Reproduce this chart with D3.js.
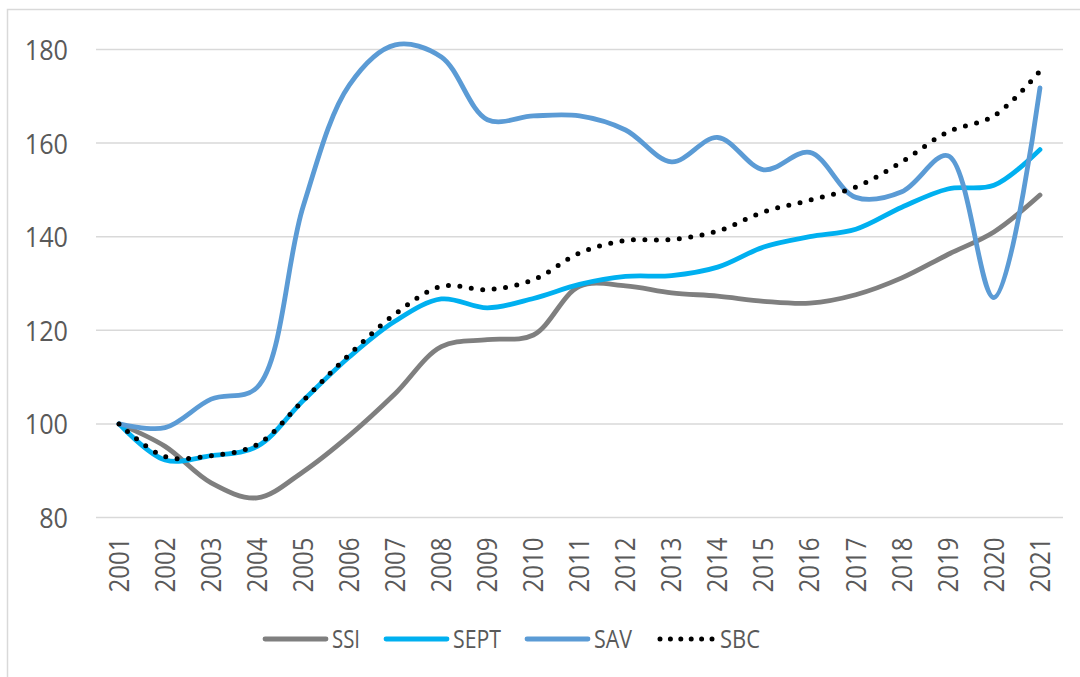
<!DOCTYPE html>
<html>
<head>
<meta charset="utf-8">
<script src="https://d3js.org/d3.v7.min.js"></script>
<style>
  body { margin: 0; background: #fff; }
  text { font-family: "Open Sans", "Noto Sans", sans-serif; fill: #595959; }
</style>
</head>
<body>
<div id="chart"></div>
<script>
const width = 1080
const height = 677

const years = ["2001", "2002", "2003", "2004", "2005", "2006", "2007", "2008", "2009", "2010", "2011",
    "2012", "2013", "2014", "2015", "2016", "2017", "2018", "2019", "2020", "2021"]
const yTicks = [80, 100, 120, 140, 160, 180]

const ssi = [100, 95.2, 87.4, 84.2, 89.8, 97.5, 106.5, 116.5, 118, 119, 129.4,
    129.5, 128, 127.3, 126.2, 125.8, 127.6, 131.2, 136.2, 141, 148.9]
const sept = [100, 92.3, 93.2, 95.2, 105, 114.3, 122, 126.7, 124.8, 126.8, 129.8,
    131.5, 131.7, 133.5, 137.8, 140, 141.6, 146.3, 150.2, 151, 158.6]
const sav = [100, 99.2, 105.3, 107.8, 146.5, 172.4, 181, 178.4, 165, 165.8, 165.8,
    162.8, 156, 161.2, 154.3, 158, 148.4, 149.6, 157.3, 127, 171.8]
const sbc = [100, 93, 93.2, 95.6, 105, 114.8, 123.5, 129.4, 128.7, 130.8, 136.5,
    139.2, 139.4, 141.2, 145.3, 147.8, 150.6, 156, 162.4, 165.8, 175.4]

const seriesNames = ["SSI", "SEPT", "SAV", "SBC"]
const seriesValues = [ssi, sept, sav, sbc]
const seriesColors = ["#7f7f7f", "#00b0f0", "#5b9bd5", "#000000"]

const svg = d3.select("#chart").append("svg")
    .attr("width", width)
    .attr("height", height)

// chart frame
svg.append("rect")
    .attr("x", 7.5).attr("y", 9.5)
    .attr("width", width + 20).attr("height", height + 20)
    .attr("fill", "none")
    .attr("stroke", "#d9d9d9")
    .attr("stroke-width", 1.5)

const xScale = d3.scaleBand()
    .domain(years)
    .range([96, 1063])

const yScale = d3.scaleLinear()
    .domain([80, 180])
    .range([517.5, 49.5])

// gridlines
svg.append("g")
    .selectAll("line")
    .data(yTicks)
    .enter()
    .append("line")
    .attr("x1", 96).attr("x2", 1063)
    .attr("y1", d => yScale(d)).attr("y2", d => yScale(d))
    .attr("stroke", "#d9d9d9")
    .attr("stroke-width", 1.5)

const yAxis = d3.axisLeft(yScale).tickValues(yTicks).tickSize(0).tickPadding(0)
const yG = svg.append("g")
    .attr("transform", "translate(68,0)")
    .call(yAxis)
yG.select(".domain").remove()
yG.selectAll("text")
    .attr("font-size", 28)
    .attr("dy", "0.36em")
    .attr("textLength", d => String(d).length * 14.4)
    .attr("lengthAdjust", "spacingAndGlyphs")

const xAxis = d3.axisBottom(xScale).tickSize(0).tickPadding(0)
const xG = svg.append("g")
    .attr("transform", "translate(0,517.5)")
    .call(xAxis)
xG.select(".domain").remove()
xG.selectAll("text")
    .attr("font-size", 27)
    .attr("transform", "rotate(-90)")
    .attr("text-anchor", "end")
    .attr("x", -20)
    .attr("y", 0)
    .attr("dy", "0.36em")
    .attr("textLength", 55)
    .attr("lengthAdjust", "spacingAndGlyphs")

const line = d3.line()
    .x((d, i) => xScale(years[i]) + xScale.bandwidth() / 2)
    .y(d => yScale(d))
    .curve(d3.curveCatmullRom.alpha(0.5))

seriesValues.forEach((vals, k) => {
    const path = svg.append("path")
        .datum(vals)
        .attr("d", line)
        .attr("fill", "none")
        .attr("stroke", seriesColors[k])
        .attr("stroke-linecap", "round")
        .attr("stroke-linejoin", "round")
    if (k === 3) {
        path.attr("stroke-width", 5).attr("stroke-dasharray", "0 11.5")
    } else {
        path.attr("stroke-width", 4.8)
    }
})

// legend
const legendX = [265, 386, 527, 660]
const legendTextLen = [28, 48, 38, 40]
const legend = svg.append("g")
    .attr("transform", "translate(0,639)")

seriesNames.forEach((name, k) => {
    const item = legend.append("g")
        .attr("transform", "translate(" + legendX[k] + ",0)")
    const l = item.append("line")
        .attr("x1", 0).attr("x2", k === 3 ? 52 : 61)
        .attr("y1", 0).attr("y2", 0)
        .attr("stroke", seriesColors[k])
        .attr("stroke-linecap", "round")
    if (k === 3) {
        l.attr("stroke-width", 5).attr("stroke-dasharray", "0 10.4")
    } else {
        l.attr("stroke-width", 4.8)
    }
    item.append("text")
        .text(name)
        .attr("x", k === 3 ? 60 : 67)
        .attr("y", 0)
        .attr("dy", "0.36em")
        .attr("font-size", 26)
        .attr("textLength", legendTextLen[k])
        .attr("lengthAdjust", "spacingAndGlyphs")
})
</script>
</body>
</html>
